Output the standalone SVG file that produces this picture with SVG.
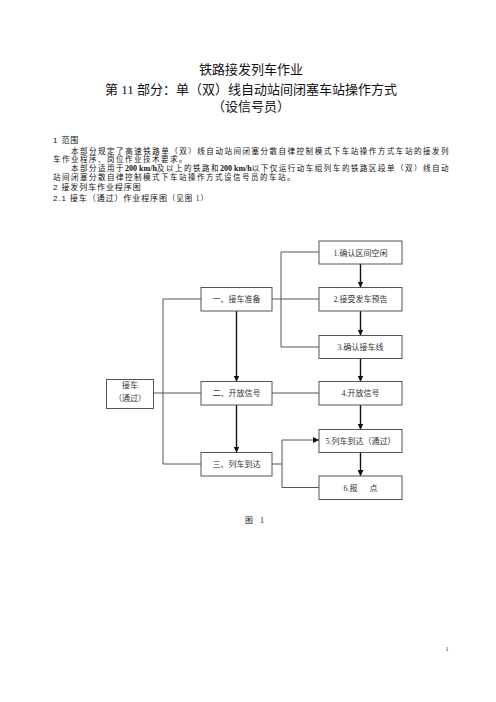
<svg xmlns="http://www.w3.org/2000/svg" width="496" height="702" viewBox="0 0 496 702">
<style>
.t{font-family:"Liberation Serif","Noto Sans CJK SC",serif;fill:#111}
.h{font-family:"Liberation Sans","Noto Sans CJK SC",sans-serif;fill:#111}
.p{font-size:7.5px;letter-spacing:1.5px}
.b{font-weight:bold;letter-spacing:0;font-size:8px}
.hd{font-size:8px;letter-spacing:0.9px}
.box{fill:#fff;stroke:#555;stroke-width:1}
.n{font-family:"Liberation Serif","Noto Sans CJK SC",serif;font-size:8px;fill:#333;text-anchor:middle}
.ln{fill:none;stroke:#555;stroke-width:1}
.ar{fill:none;stroke:#111;stroke-width:1.4}
</style>
<defs>
<marker id="ah" markerUnits="userSpaceOnUse" markerWidth="6" markerHeight="6" refX="6" refY="3" orient="auto">
<path d="M0,0 L6,3 L0,6 z" fill="#111"/>
</marker>
</defs>
<rect width="496" height="702" fill="#fff"/>
<g id="title" class="t" font-size="13" text-anchor="middle">
<text x="251" y="74">铁路接发列车作业</text>
<text x="251" y="94">第 11 部分：单（双）线自动站间闭塞车站操作方式</text>
<text x="251" y="111">（设信号员）</text>
</g>
<g id="body">
<text class="h hd" x="53" y="143">1 范围</text>
<text class="t p" x="71" y="153.5" textLength="379" lengthAdjust="spacingAndGlyphs">本部分规定了高速铁路单（双）线自动站间闭塞分散自律控制模式下车站操作方式车站的接发列</text>
<text class="t p" x="53" y="162">车作业程序、岗位作业技术要求。</text>
<text class="t p" x="71" y="171" textLength="379" lengthAdjust="spacingAndGlyphs">本部分适用于<tspan class="b">200 km/h</tspan>及以上的铁路和<tspan class="b">200 km/h</tspan>以下仅运行动车组列车的铁路区段单（双）线自动</text>
<text class="t p" x="53" y="180">站间闭塞分散自律控制模式下车站操作方式设信号员的车站。</text>
<text class="h hd" x="53" y="189.5">2 接发列车作业程序图</text>
<text class="h hd" x="53" y="200.5">2.1  接车（通过）作业程序图<tspan class="t" font-size="7.5">（见图 1）</tspan></text>
</g>
<g id="connectors">
<path class="ar" d="M360.5,264 V287.5" marker-end="url(#ah)"/>
<path class="ar" d="M360.5,311 V335.5" marker-end="url(#ah)"/>
<path class="ar" d="M360.5,358.5 V381.5" marker-end="url(#ah)"/>
<path class="ar" d="M360.5,405 V429.5" marker-end="url(#ah)"/>
<path class="ar" d="M360.5,452.5 V476" marker-end="url(#ah)"/>
<path class="ln" d="M319,252 H281 V347 H319"/>
<path class="ln" d="M272,299 H319"/>
<path class="ln" d="M272,393 H319"/>
<path class="ln" d="M272,464 H282"/>
<path class="ln" d="M319,487.5 H282 V440"/>
<path class="ln" d="M282,440 H319" marker-end="url(#ah)"/>
<path class="ln" d="M201,299 H163 V464 H201"/>
<path class="ln" d="M153,393 H201"/>
<path class="ar" d="M236.5,311 V381.5" marker-end="url(#ah)"/>
<path class="ar" d="M236.5,405 V452.5" marker-end="url(#ah)"/>
</g>
<g id="n_start"><rect class="box" x="106.5" y="379.5" width="47" height="29"/><text class="n" x="130" y="388">接车</text><text class="n" x="130" y="401">（通过）</text></g>
<g id="n_a"><rect class="box" x="201" y="287.5" width="71" height="23.5"/><text class="n" x="236.5" y="302">一、接车准备</text></g>
<g id="n_b"><rect class="box" x="201" y="381.5" width="71" height="23.5"/><text class="n" x="236.5" y="396">二、开放信号</text></g>
<g id="n_c"><rect class="box" x="201" y="452.5" width="71" height="23.5"/><text class="n" x="236.5" y="467">三、列车到达</text></g>
<g id="n1"><rect class="box" x="319" y="241" width="83" height="23"/><text class="n" x="360.5" y="255.5">1.确认区间空闲</text></g>
<g id="n2"><rect class="box" x="319" y="287.5" width="83" height="23.5"/><text class="n" x="360.5" y="302">2.接受发车预告</text></g>
<g id="n3"><rect class="box" x="319" y="335.5" width="83" height="23"/><text class="n" x="360.5" y="350">3.确认接车线</text></g>
<g id="n4"><rect class="box" x="319" y="381.5" width="83" height="23.5"/><text class="n" x="360.5" y="396">4.开放信号</text></g>
<g id="n5"><rect class="box" x="319" y="429.5" width="83" height="23"/><text class="n" x="360.5" y="444">5.列车到达（通过）</text></g>
<g id="n6"><rect class="box" x="319" y="476" width="83" height="23.5"/><text class="n" x="360.5" y="490.5" xml:space="preserve">6.报      点</text></g>
<g id="caption" class="t" font-size="8"><text x="245" y="523">图</text><text x="260" y="523">1</text></g>
<text class="t" x="445.5" y="651" font-size="6">1</text>
</svg>
